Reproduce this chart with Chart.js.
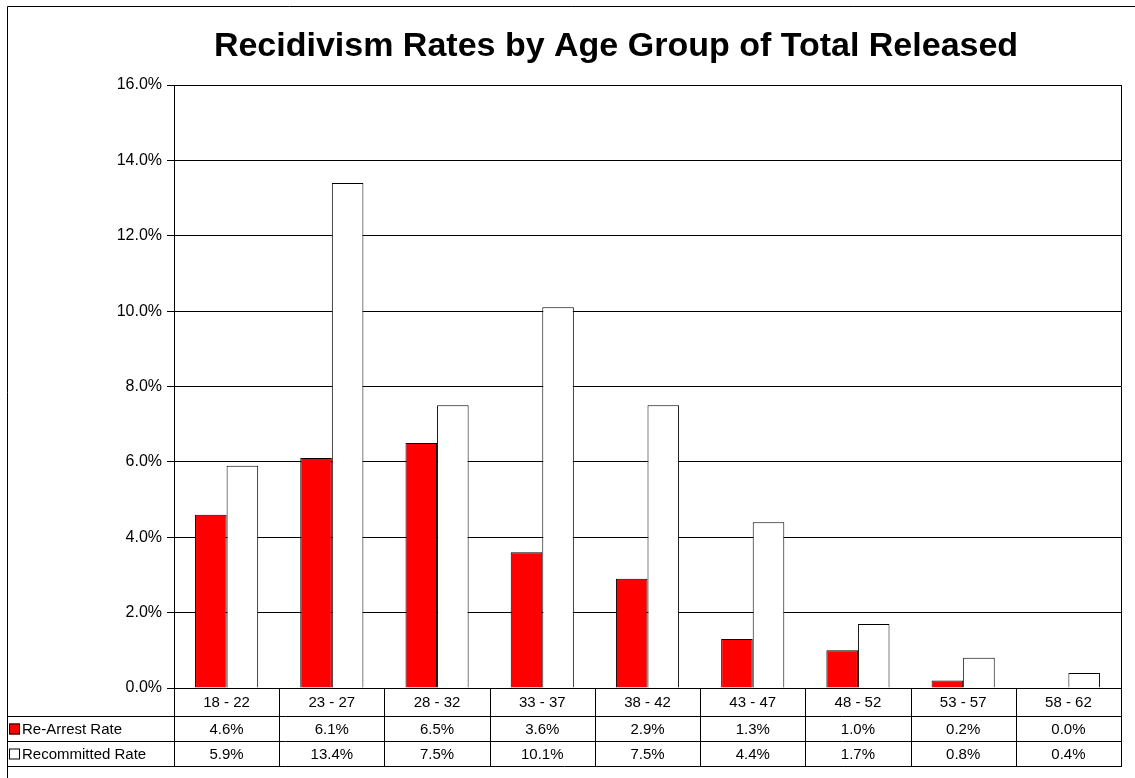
<!DOCTYPE html>
<html lang="en">
<head>
    <meta charset="UTF-8">
    <title>Recidivism Rates by Age Group of Total Released</title>
    <script src="https://cdn.jsdelivr.net/npm/chart.js"></script>
    <style>
        html, body { margin: 0; padding: 0; background: #fff; }
        #wrap { width: 1135px; height: 778px; }
    </style>
</head>
<body>
    <div id="wrap"><canvas id="chart"></canvas></div>

    <script>
        const ageGroups = ['18 - 22', '23 - 27', '28 - 32', '33 - 37', '38 - 42', '43 - 47', '48 - 52', '53 - 57', '58 - 62'];
        const reArrestRate = [4.6, 6.1, 6.5, 3.6, 2.9, 1.3, 1.0, 0.2, 0.0];
        const recommittedRate = [5.9, 13.4, 7.5, 10.1, 7.5, 4.4, 1.7, 0.8, 0.4];
        const seriesNames = ['Re-Arrest Rate', 'Recommitted Rate'];
        const seriesColors = ['#ff0000', '#ffffff'];
        const chartTitle = 'Recidivism Rates by Age Group of Total Released';

        const FONT = '"Liberation Sans", Arial, sans-serif';

        // title, outer frame, plot right border and the data table under the plot
        const tablePlugin = {
            id: 'tablePlugin',
            afterDraw(chart) {
                const ctx = chart.ctx;
                const area = chart.chartArea;
                const x = chart.scales.x;
                const colW = (area.right - area.left) / ageGroups.length;
                const rowTops = [area.bottom, area.bottom + 28, area.bottom + 53, area.bottom + 78];

                ctx.save();
                ctx.strokeStyle = '#000';
                ctx.lineWidth = 1;

                // outer frame (top + left only visible)
                ctx.beginPath();
                ctx.moveTo(7.5, 1000);
                ctx.lineTo(7.5, 6.5);
                ctx.lineTo(1135, 6.5);
                ctx.stroke();

                // plot right border
                ctx.beginPath();
                ctx.moveTo(Math.round(area.right) + 0.5, area.top);
                ctx.lineTo(Math.round(area.right) + 0.5, area.bottom);
                ctx.stroke();

                // title
                ctx.fillStyle = '#000';
                ctx.font = 'bold 34px ' + FONT;
                ctx.textAlign = 'center';
                ctx.textBaseline = 'middle';
                ctx.fillText(chartTitle, 616, 47);

                // table lines
                ctx.beginPath();
                ctx.moveTo(7, rowTops[1] + 0.5);
                ctx.lineTo(area.right, rowTops[1] + 0.5);
                ctx.moveTo(7, rowTops[2] + 0.5);
                ctx.lineTo(area.right, rowTops[2] + 0.5);
                ctx.moveTo(7, rowTops[3] + 0.5);
                ctx.lineTo(area.right + 1, rowTops[3] + 0.5);
                for (let i = 0; i <= ageGroups.length; i++) {
                    const lx = Math.round(area.left + i * colW) + 0.5;
                    ctx.moveTo(lx, rowTops[0]);
                    ctx.lineTo(lx, rowTops[3]);
                }
                ctx.stroke();

                // table text
                ctx.font = '15px ' + FONT;
                ctx.textAlign = 'center';
                ageGroups.forEach((g, i) => {
                    const cx = x.getPixelForValue(i);
                    ctx.fillText(g, cx, (rowTops[0] + rowTops[1]) / 2 + 1);
                    ctx.fillText(reArrestRate[i].toFixed(1) + '%', cx, (rowTops[1] + rowTops[2]) / 2 + 1);
                    ctx.fillText(recommittedRate[i].toFixed(1) + '%', cx, (rowTops[2] + rowTops[3]) / 2 + 1);
                });

                // legend keys in the row headers
                ctx.textAlign = 'left';
                [1, 2].forEach((r, k) => {
                    const cy = (rowTops[r] + rowTops[r + 1]) / 2;
                    ctx.fillStyle = seriesColors[k];
                    ctx.fillRect(9, cy - 5, 11, 11);
                    ctx.strokeRect(9.5, cy - 4.5, 10, 10);
                    ctx.fillStyle = '#000';
                    ctx.fillText(seriesNames[k], 22, cy + 1);
                });
                ctx.restore();
            }
        };

        const ctx = document.getElementById('chart').getContext('2d');
        const chart = new Chart(ctx, {
            type: 'bar',
            data: {
                labels: ageGroups,
                datasets: [
                    {
                        label: seriesNames[0],
                        data: reArrestRate,
                        backgroundColor: seriesColors[0],
                        borderColor: '#000',
                        borderWidth: 1,
                        categoryPercentage: 0.6,
                        barPercentage: 1.0
                    },
                    {
                        label: seriesNames[1],
                        data: recommittedRate,
                        backgroundColor: seriesColors[1],
                        borderColor: '#000',
                        borderWidth: 1,
                        categoryPercentage: 0.6,
                        barPercentage: 1.0
                    }
                ]
            },
            options: {
                responsive: true,
                maintainAspectRatio: false,
                animation: false,
                layout: {
                    padding: { left: 0, top: 85, right: 14, bottom: 90 }
                },
                plugins: {
                    legend: { display: false },
                    title: { display: false },
                    tooltip: { enabled: false }
                },
                scales: {
                    x: {
                        display: false
                    },
                    y: {
                        min: 0,
                        max: 16,
                        afterFit: function (scale) { scale.width = 174; },
                        ticks: {
                            stepSize: 2,
                            color: '#000',
                            font: { family: FONT, size: 16 },
                            padding: 5,
                            callback: v => v.toFixed(1) + '%'
                        },
                        grid: {
                            color: '#000',
                            lineWidth: 1,
                            tickLength: 7,
                            drawTicks: true
                        },
                        border: { display: true, color: '#000' }
                    }
                }
            },
            plugins: [tablePlugin]
        });
    </script>
</body>
</html>
